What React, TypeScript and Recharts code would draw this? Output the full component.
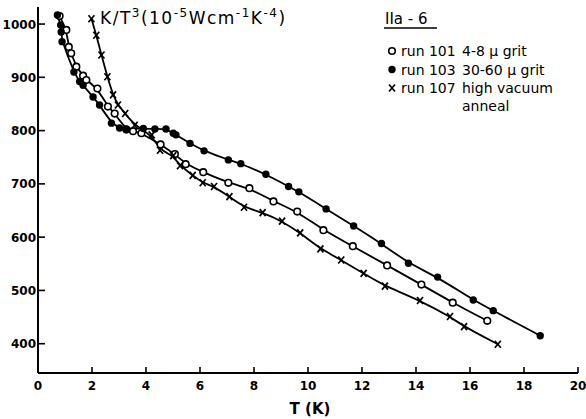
import React from "react";
import { ComposedChart, Line, XAxis, YAxis } from "recharts";

// T (K) vs K/T^3, three runs of sample IIa-6
const run101 = [
  { x: 0.8, y: 1015 }, { x: 1.05, y: 989 }, { x: 1.14, y: 957 }, { x: 1.23, y: 945 },
  { x: 1.42, y: 920 }, { x: 1.67, y: 903 }, { x: 1.79, y: 895 }, { x: 2.2, y: 879 },
  { x: 2.59, y: 845 }, { x: 2.84, y: 832 }, { x: 3.27, y: 802 }, { x: 3.52, y: 799 },
  { x: 3.83, y: 795 }, { x: 4.54, y: 774 }, { x: 5.07, y: 756 }, { x: 5.47, y: 737 },
  { x: 6.12, y: 722 }, { x: 7.05, y: 702 }, { x: 7.83, y: 692 }, { x: 8.72, y: 667 },
  { x: 9.6, y: 648 }, { x: 10.57, y: 613 }, { x: 11.66, y: 583 }, { x: 12.93, y: 547 },
  { x: 14.2, y: 511 }, { x: 15.36, y: 477 }, { x: 16.64, y: 443 },
];

const run103 = [
  { x: 0.72, y: 1017 }, { x: 0.84, y: 998 }, { x: 0.86, y: 985 }, { x: 0.89, y: 967 },
  { x: 1.33, y: 910 }, { x: 1.54, y: 892 }, { x: 1.67, y: 885 }, { x: 2.04, y: 863 },
  { x: 2.28, y: 848 }, { x: 2.72, y: 814 }, { x: 3.02, y: 805 }, { x: 3.27, y: 803 },
  { x: 3.9, y: 804 }, { x: 4.33, y: 803 }, { x: 4.74, y: 803 }, { x: 5.01, y: 795 },
  { x: 5.11, y: 792 }, { x: 5.63, y: 776 }, { x: 6.15, y: 762 }, { x: 7.05, y: 745 },
  { x: 7.51, y: 738 }, { x: 8.44, y: 718 }, { x: 9.28, y: 695 }, { x: 9.66, y: 685 },
  { x: 10.67, y: 653 }, { x: 11.69, y: 621 }, { x: 12.72, y: 588 }, { x: 13.72, y: 551 },
  { x: 14.8, y: 525 }, { x: 16.12, y: 482 }, { x: 16.86, y: 462 }, { x: 18.6, y: 415 },
];

const run107 = [
  { x: 1.98, y: 1010 }, { x: 2.16, y: 979 }, { x: 2.35, y: 942 }, { x: 2.57, y: 901 },
  { x: 2.78, y: 867 }, { x: 2.96, y: 848 }, { x: 3.23, y: 832 }, { x: 3.58, y: 810 },
  { x: 4.21, y: 792 }, { x: 4.52, y: 763 }, { x: 5.01, y: 753 }, { x: 5.26, y: 734 },
  { x: 5.73, y: 716 }, { x: 6.1, y: 702 }, { x: 6.52, y: 695 }, { x: 7.09, y: 676 },
  { x: 7.63, y: 656 }, { x: 8.32, y: 646 }, { x: 9.04, y: 630 }, { x: 9.71, y: 608 },
  { x: 10.46, y: 578 }, { x: 11.23, y: 557 }, { x: 12.06, y: 532 }, { x: 12.85, y: 508 },
  { x: 14.15, y: 481 }, { x: 15.26, y: 451 }, { x: 15.78, y: 432 }, { x: 17.03, y: 399 },
];

const xTicks = [0, 2, 4, 6, 8, 10, 12, 14, 16, 18, 20];
const yTicks = [400, 500, 600, 700, 800, 900, 1000];

const legendRows = [
  { mark: "open", run: "run 101", text: "4-8 \u00b5 grit" },
  { mark: "filled", run: "run 103", text: "30-60 \u00b5 grit" },
  { mark: "cross", run: "run 107", text: "high vacuum" },
];

const FONT = "'DejaVu Sans', sans-serif";

function Mark({ kind, cx, cy }: any) {
  if (cx == null || cy == null) return null;
  if (kind === "open")
    return <circle cx={cx} cy={cy} r={3.3} fill="#fff" stroke="#000" strokeWidth={1.6} />;
  if (kind === "filled") return <circle cx={cx} cy={cy} r={3.7} fill="#000" />;
  return (
    <g stroke="#000" strokeWidth={1.7}>
      <line x1={cx - 3} y1={cy - 3.5} x2={cx + 3} y2={cy + 3.5} />
      <line x1={cx - 3} y1={cy + 3.5} x2={cx + 3} y2={cy - 3.5} />
    </g>
  );
}

function XTick({ x, y, payload }: any) {
  return (
    <g>
      <line x1={x} x2={x} y1={y - 6} y2={y} stroke="#000" strokeWidth={1.6} />
      <text x={x} y={y + 17} textAnchor="middle" fontFamily={FONT} fontWeight="bold" fontSize={12} fill="#000">
        {payload.value}
      </text>
    </g>
  );
}

function YTick({ x, y, payload }: any) {
  return (
    <g>
      <line x1={x} x2={x + 7} y1={y} y2={y} stroke="#000" strokeWidth={1.6} />
      <text x={x - 2} y={y + 4.5} textAnchor="end" fontFamily={FONT} fontWeight="bold" fontSize={12} fill="#000">
        {payload.value}
      </text>
    </g>
  );
}

export default function App() {
  const series = [
    { key: "101", data: run101, kind: "open" },
    { key: "103", data: run103, kind: "filled" },
    { key: "107", data: run107, kind: "cross" },
  ];
  return (
    <div style={{ position: "absolute", left: 0, top: 0, width: 586, height: 419, background: "#fff" }}>
      <ComposedChart width={586} height={419} margin={{ top: 7, right: 8, bottom: 0, left: 0 }}>
        <XAxis
          type="number"
          dataKey="x"
          domain={[0, 20]}
          ticks={xTicks}
          allowDataOverflow
          height={46}
          tickSize={0}
          tickMargin={0}
          tickLine={false}
          axisLine={{ stroke: "#000", strokeWidth: 2 }}
          tick={<XTick />}
        />
        <YAxis
          type="number"
          domain={[345, 1032]}
          ticks={yTicks}
          allowDataOverflow
          width={38}
          tickSize={0}
          tickMargin={0}
          tickLine={false}
          axisLine={{ stroke: "#000", strokeWidth: 2 }}
          tick={<YTick />}
        />
        {series.map((s) => (
          <Line
            key={s.key}
            data={s.data}
            dataKey="y"
            type="basis"
            stroke="#000"
            strokeWidth={1.8}
            isAnimationActive={false}
            dot={(p: any) => <Mark key={p.index} kind={s.kind} cx={p.cx} cy={p.cy} />}
            activeDot={false}
          />
        ))}
      </ComposedChart>
      <svg
        width={586}
        height={419}
        style={{ position: "absolute", left: 0, top: 0, pointerEvents: "none" }}
        fontFamily={FONT}
        fill="#000"
      >
        <text x={100} y={24} fontSize={17} letterSpacing={1.5}>
          K/T
          <tspan dy={-7} fontSize={12}>3</tspan>
          <tspan dy={7}>(10</tspan>
          <tspan dy={-7} fontSize={12}>-5</tspan>
          <tspan dy={7}>Wcm</tspan>
          <tspan dy={-7} fontSize={12}>-1</tspan>
          <tspan dy={7}>K</tspan>
          <tspan dy={-7} fontSize={12}>-4</tspan>
          <tspan dy={7}>)</tspan>
        </text>
        <text x={385} y={24} fontSize={15}>IIa - 6</text>
        <line x1={384} x2={437} y1={28} y2={28} stroke="#000" strokeWidth={1.3} />
        {legendRows.map((r, i) => (
          <g key={r.run}>
            <Mark kind={r.mark} cx={392} cy={51 + i * 18.5} />
            <text x={401} y={56 + i * 18.5} fontSize={14}>{r.run}</text>
            <text x={462} y={56 + i * 18.5} fontSize={14}>{r.text}</text>
          </g>
        ))}
        <text x={462} y={111} fontSize={14}>anneal</text>
        <text x={310} y={414} fontSize={15} fontWeight="bold" textAnchor="middle">T (K)</text>
      </svg>
    </div>
  );
}
